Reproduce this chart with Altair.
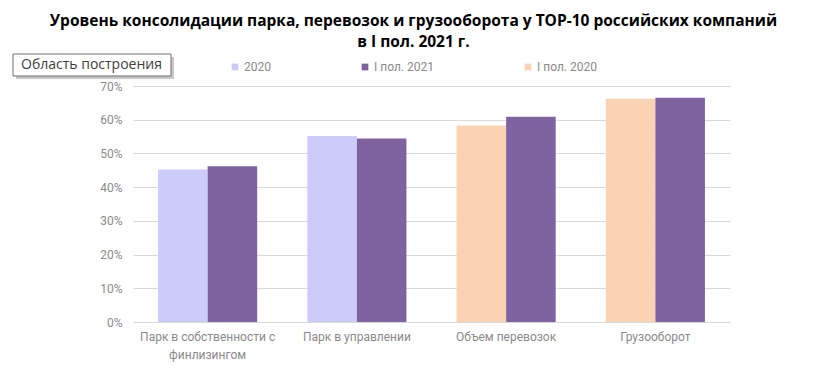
import altair as alt
import pandas as pd

categories = ["Парк в собственности с\nфинлизингом", "Парк в управлении", "Объем перевозок", "Грузооборот"]
left_series = ["2020", "2020", "I пол. 2020", "I пол. 2020"]
left_values = [45.2, 55.2, 58.3, 66.2]
right_series = ["I пол. 2021", "I пол. 2021", "I пол. 2021", "I пол. 2021"]
right_values = [46.2, 54.4, 60.9, 66.5]
legend_order = ["2020", "I пол. 2021", "I пол. 2020"]
colors = ["#CCCCFB", "#7F63A1", "#F9D3B3"]
title_lines = ["Уровень консолидации парка, перевозок и грузооборота у ТОР-10 российских компаний",
               "в I пол. 2021 г."]
overlay_label = ["Область построения"]

rows = []
for c, s, v in zip(categories, left_series, left_values):
    rows.append({"cat": c, "series": s, "slot": "a", "value": v / 100})
for c, s, v in zip(categories, right_series, right_values):
    rows.append({"cat": c, "series": s, "slot": "b", "value": v / 100})
df = pd.DataFrame(rows)

LABEL_FONT = "Roboto"
LABEL_COLOR = "#8A8A8A"
GRID = "#D9D9D9"

bars = alt.Chart(df).mark_bar().encode(
    x=alt.X("cat:N", sort=categories, title=None,
            scale=alt.Scale(paddingInner=0.336, paddingOuter=0.168),
            axis=alt.Axis(labelAngle=0, domain=False, ticks=False, grid=False, labelPadding=9,
                          labelExpr="split(datum.label, '\\n')", labelLineHeight=18,
                          labelFont=LABEL_FONT, labelFontSize=12, labelColor=LABEL_COLOR,
                          labelLimit=300)),
    xOffset=alt.XOffset("slot:N", scale=alt.Scale(paddingInner=0, paddingOuter=0)),
    y=alt.Y("value:Q", title=None,
            scale=alt.Scale(domain=[0, 0.7], nice=False),
            axis=alt.Axis(format=".0%", values=[0, 0.1, 0.2, 0.3, 0.4, 0.5, 0.6, 0.7],
                          domain=False, ticks=False, labelPadding=11, gridColor=GRID,
                          gridWidth=1, labelFont=LABEL_FONT, labelFontSize=12,
                          labelColor=LABEL_COLOR)),
    color=alt.Color("series:N", scale=alt.Scale(domain=legend_order, range=colors),
                    legend=alt.Legend(title=None, orient="none", direction="horizontal",
                                      legendX=96, legendY=-25, symbolType="square",
                                      symbolSize=45, symbolStrokeWidth=0, labelOffset=3,
                                      columnPadding=88, labelFont=LABEL_FONT,
                                      labelFontSize=12, labelColor=LABEL_COLOR,
                                      symbolOpacity=1)),
)

lab_df = pd.DataFrame({"t": overlay_label})
shadow = alt.Chart(lab_df).mark_rect(fill="#B0B0B0", opacity=0.7).encode(
    x=alt.value(-117), x2=alt.value(41), y=alt.value(-29), y2=alt.value(-7))
box = alt.Chart(lab_df).mark_rect(fill="white", stroke="#6E6E6E", strokeWidth=1).encode(
    x=alt.value(-120), x2=alt.value(38), y=alt.value(-32), y2=alt.value(-10))
box_text = alt.Chart(lab_df).mark_text(align="left", baseline="middle", fontSize=14,
                                       font="Open Sans", color="#404040").encode(
    x=alt.value(-112), y=alt.value(-21), text="t:N")

chart = alt.layer(bars, shadow, box, box_text).properties(
    width=597, height=236,
    background="white",
    autosize=alt.AutoSizeParams(type="none"),
    padding={"left": 125, "top": 78, "right": 76, "bottom": 44},
    title=alt.TitleParams(text=title_lines, fontSize=15.5, fontWeight="bold",
                          font="Open Sans", color="#000000",
                          anchor="middle", dx=-18, offset=3, lineHeight=21),
).configure_view(stroke=None)

chart.save("out.html", embed_options={"renderer": "svg", "actions": False})
